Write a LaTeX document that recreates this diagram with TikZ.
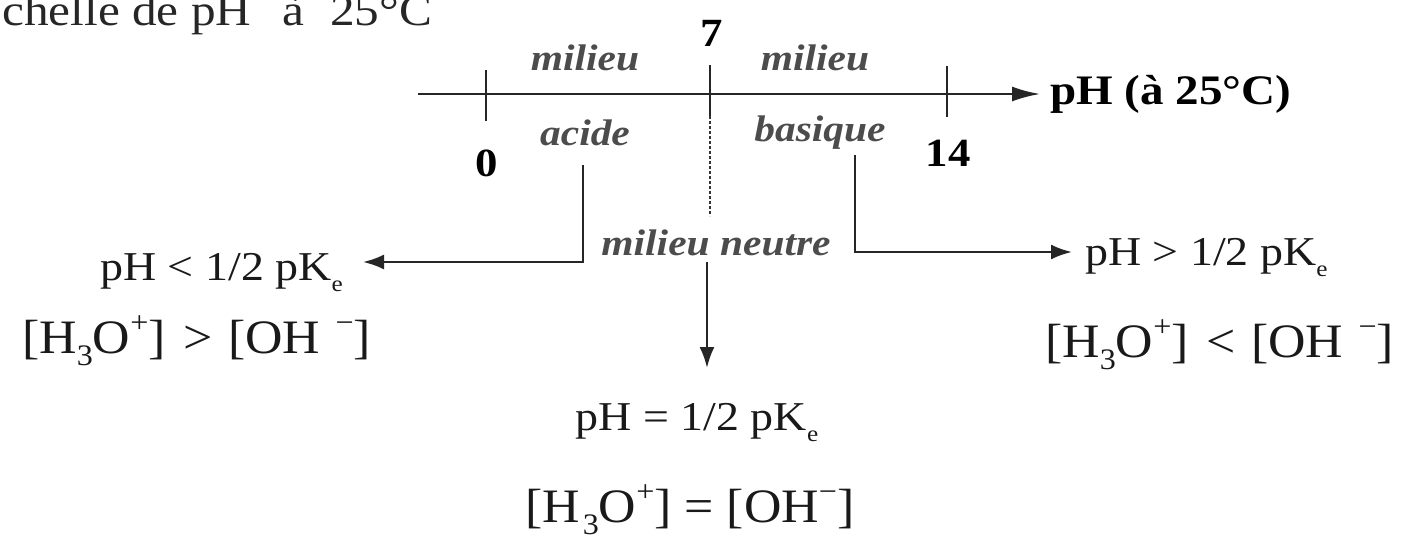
\documentclass[tikz,border=0pt]{standalone}
\usepackage{graphicx}
\usepackage{fontspec}
\setmainfont{Liberation Serif}[FakeStretch=1.12]
\newfontfamily\eqfont{Liberation Serif}[FakeStretch=1.08]
\usetikzlibrary{arrows.meta}
\newcommand{\lowe}{\raisebox{-0.28em}{\scalebox{0.55}{e}}}
\newcommand{\upsym}[1]{\raisebox{0.42em}{\scalebox{0.62}{#1}}}
\newcommand{\lowsym}[1]{\raisebox{-0.25em}{\scalebox{0.62}{#1}}}
\begin{document}
\begin{tikzpicture}[x=1pt,y=-1pt,
  txt/.style={font=\fontsize{41}{48}\selectfont, inner sep=0pt, text=black!90},
  eq/.style={font=\eqfont\fontsize{48}{54}\selectfont, inner sep=0pt, text=black!90},
  ttl/.style={font=\fontsize{44}{50}\selectfont, inner sep=0pt, text=black!85},
  lab/.style={font=\fontsize{37}{44}\selectfont\itshape\bfseries, inner sep=0pt, text=black!70},
  num/.style={font=\fontsize{40}{46}\selectfont\bfseries, inner sep=0pt, text=black},
  ln/.style={line width=2.4pt, draw=black!85},
  arr/.style={ln, -{Latex[length=21pt,width=15pt]}},
]
\useasboundingbox (0,0) rectangle (1417,538);
\clip (0,0) rectangle (1417,538);
% title (cut at top, as in the reference)
\node[ttl, anchor=base west] (title) at (2,25) {chelle de pH\hspace{0.7em}à\hspace{0.6em}25°C};
% axis
\coordinate (axL) at (418,94);
\node[num, anchor=west, font=\fontsize{42}{48}\selectfont\bfseries] (phaxis) at (1050,94) {pH (à 25°C)};
\draw[ln, -{Latex[length=28pt,width=15pt]}, shorten >=10pt] (axL) -- (phaxis.west);
% ticks
\coordinate (t0) at (486,94);
\coordinate (t7) at (710,94);
\coordinate (t14) at (947,94);
\draw[ln] (486,70) -- (t0) -- (486,121);
\draw[ln] (710,65) -- (t7) -- (710,116);
\draw[ln] (947,66) -- (t14) -- (947,117);
\draw[line width=2pt, black!80, dash pattern=on 3pt off 2pt] (710,116) -- (710,216);
% numbers
\node[num] (n7) at (712,33) {7};
\node[num] (n0) at (487,163) {0};
\node[num] (n14) at (948,153) {14};
% italic labels
\node[lab] (mila) at (585,58) {milieu};
\node[lab] (milb) at (815,58) {milieu};
\node[lab] (acide) at (585,133) {acide};
\node[lab] (basique) at (820,133) {basique};
\node[lab] (neutre) at (716,243) {milieu neutre};
% left branch
\coordinate (lstart) at (583,165);
\node[txt, anchor=base east] (lt1) at (343,280) {pH < 1/2 pK\lowe};
\node[eq, anchor=base west] (lt2) at (22,353) {[H\lowsym{3}O\upsym{+}]\hspace{0.1em} > \hspace{0.05em}[OH\hspace{0.05em} \upsym{−}]};
\draw[arr] (lstart) -- (583,262) -- ([xshift=20pt]lt1.east |- 0,262);
% right branch
\coordinate (rstart) at (855,155);
\node[txt, anchor=base west] (rt1) at (1085,265) {pH > 1/2 pK\lowe};
\node[eq, anchor=base west] (rt2) at (1045,357) {[H\lowsym{3}O\upsym{+}]\hspace{0.1em} < \hspace{0.05em}[OH\hspace{0.05em} \upsym{−}]};
\draw[arr] (rstart) -- (855,252) -- ([xshift=-13pt]rt1.west |- 0,252);
% centre branch
\node[txt, anchor=base] (ct1) at (697,430) {pH = 1/2 pK\lowe};
\node[eq, anchor=base] (ct2) at (690,522) {[H\hspace{0.05em}\lowsym{3}O\upsym{+}] = [OH\upsym{−}]};
\coordinate (cend) at (707,368);
\draw[arr] (neutre.south -| cend) ++(0,6) -- (cend);
\end{tikzpicture}
\end{document}
